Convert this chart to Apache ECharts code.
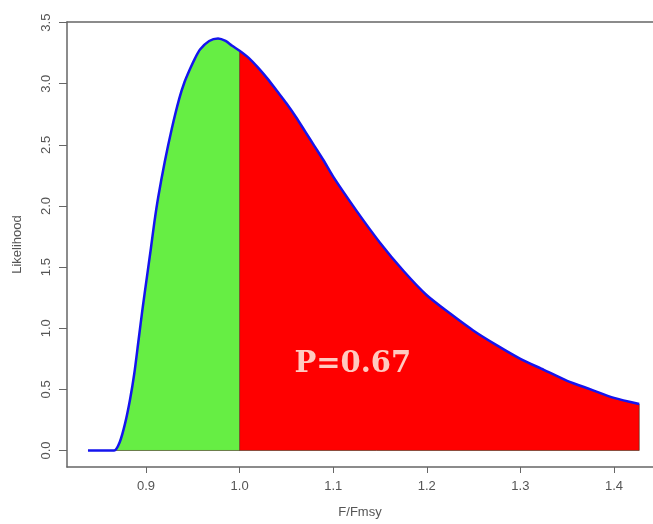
<!DOCTYPE html>
<html>
<head>
<meta charset="utf-8">
<script src="https://cdn.jsdelivr.net/npm/echarts@6/dist/echarts.min.js"></script>
<style>
  html, body { margin: 0; padding: 0; background: #ffffff; }
  #chart { width: 653px; height: 524px; }
</style>
</head>
<body>
<div id="chart"></div>
<script>
// Likelihood profile of F/Fmsy
const fRatio = [
  0.838, 0.850, 0.866, 0.872, 0.8776, 0.883, 0.8875, 0.892, 0.8965, 0.901,
  0.905, 0.909, 0.913, 0.920, 0.9275, 0.9356, 0.941, 0.947, 0.9525, 0.9577,
  0.9675, 0.977, 0.985, 0.992, 1.000, 1.01, 1.02, 1.03, 1.04, 1.05,
  1.06, 1.07, 1.08, 1.09, 1.10, 1.125, 1.15, 1.175, 1.20, 1.225,
  1.25, 1.275, 1.30, 1.325, 1.35, 1.375, 1.40, 1.427
];
const likelihood = [
  0, 0, 0, 0.07, 0.22, 0.42, 0.63, 0.90, 1.17, 1.42,
  1.64, 1.87, 2.07, 2.36, 2.63, 2.88, 3.01, 3.12, 3.21, 3.28,
  3.35, 3.37, 3.35, 3.31, 3.27, 3.21, 3.13, 3.04, 2.94, 2.84,
  2.73, 2.61, 2.49, 2.37, 2.24, 1.96, 1.70, 1.47, 1.27, 1.12,
  0.98, 0.86, 0.75, 0.66, 0.57, 0.50, 0.43, 0.38
];
const fmsyRef = 1.0;               // reference point splitting the two shaded areas
const xTicks = [0.9, 1.0, 1.1, 1.2, 1.3, 1.4];
const yTicks = [0.0, 0.5, 1.0, 1.5, 2.0, 2.5, 3.0, 3.5];
const pLabel = 'P=0.67';
const pLabelAt = [1.121, 0.70];    // data position of the probability note
const xName = 'F/Fmsy';
const yName = 'Likelihood';

const pts = fRatio.map((x, i) => [x, likelihood[i]]);
const below = pts.filter(p => p[0] <= fmsyRef);
const above = pts.filter(p => p[0] >= fmsyRef);
const refPoint = pts.find(p => p[0] === fmsyRef);
const lastPoint = pts[pts.length - 1];
const firstRise = pts[pts.findIndex(p => p[1] > 0) - 1];

const X_MIN = 0.8156, X_MAX = 1.4417;
const axisText = { color: '#555', fontFamily: 'Liberation Sans, Arial, sans-serif', fontSize: 13 };
const nameText = { color: '#555', fontFamily: 'Liberation Sans, Arial, sans-serif', fontSize: 13 };
const frame = { show: true, onZero: false, lineStyle: { color: '#666', width: 1.5 } };
const smoothCfg = { smooth: 0.25 };

const chart = echarts.init(document.getElementById('chart'));
chart.setOption({
  animation: false,
  backgroundColor: '#ffffff',
  grid: { left: 67, top: 22, right: 0, bottom: 57 },
  xAxis: [{
    type: 'value', min: X_MIN, max: X_MAX, position: 'bottom',
    name: xName, nameLocation: 'middle', nameGap: 39, nameTextStyle: nameText,
    axisLine: frame,
    splitLine: { show: false },
    axisTick: { show: true, length: 6, lineStyle: { color: '#666', width: 1 }, customValues: xTicks },
    axisLabel: Object.assign({ margin: 13, customValues: xTicks, formatter: v => v.toFixed(1) }, axisText)
  }, {
    // top edge of the plot frame
    type: 'value', min: X_MIN, max: X_MAX, position: 'top',
    axisLine: frame, axisTick: { show: false }, axisLabel: { show: false }, splitLine: { show: false }
  }],
  yAxis: {
    type: 'value', min: -0.135, max: 3.505,
    name: yName, nameLocation: 'middle', nameGap: 43, nameTextStyle: nameText,
    axisLine: frame,
    splitLine: { show: false },
    axisTick: { show: true, length: 8, lineStyle: { color: '#666', width: 1 }, customValues: yTicks },
    axisLabel: Object.assign({ margin: 14, rotate: 90, customValues: yTicks, formatter: v => v.toFixed(1) }, axisText)
  },
  series: [
    Object.assign({
      name: 'below', type: 'line', data: below, showSymbol: false, silent: true,
      lineStyle: { width: 0 }, areaStyle: { color: '#66EE44', opacity: 1 }
    }, smoothCfg),
    Object.assign({
      name: 'above', type: 'line', data: above, showSymbol: false, silent: true,
      lineStyle: { width: 0 }, areaStyle: { color: '#FF0000', opacity: 1 }
    }, smoothCfg),
    {
      name: 'edges', type: 'line', showSymbol: false, silent: true,
      data: [[refPoint[0], refPoint[1]], [refPoint[0], 0]],
      lineStyle: { color: '#3a2a10', width: 1, opacity: 0.6 }
    },
    {
      name: 'base', type: 'line', showSymbol: false, silent: true,
      data: [[firstRise[0], 0], [lastPoint[0], 0], [lastPoint[0], lastPoint[1]]],
      lineStyle: { color: '#3a2a10', width: 1, opacity: 0.6 }
    },
    Object.assign({
      name: 'curve', type: 'line', data: pts, showSymbol: false, silent: true,
      lineStyle: { color: '#1414EE', width: 2.5 }
    }, smoothCfg),
    {
      name: 'note', type: 'scatter', data: [pLabelAt], symbolSize: 0, silent: true, z: 10,
      label: {
        show: true, position: 'inside', formatter: pLabel,
        color: '#fffdf0', fontFamily: '"DejaVu Serif", serif', fontWeight: 'bold', fontSize: 29
      }
    }
  ]
});
</script>
</body>
</html>
